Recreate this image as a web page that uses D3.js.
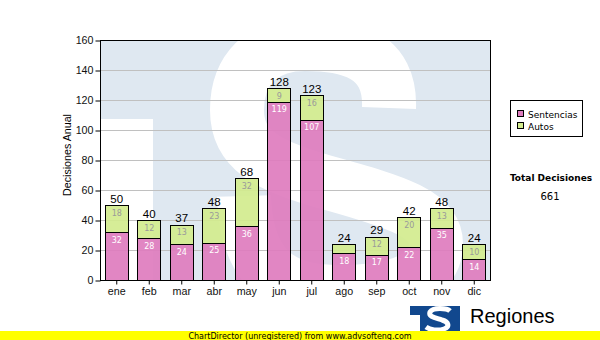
<!DOCTYPE html>
<html>
<head>
<meta charset="utf-8">
<script src="https://cdn.jsdelivr.net/npm/d3@7"></script>
<style>
  html, body { margin: 0; padding: 0; background: #fff; }
  svg { display: block; }
</style>
</head>
<body>
<svg id="chart" width="600" height="340"></svg>
<script>
// Monthly decisions, stacked by type
const months = ["ene","feb","mar","abr","may","jun","jul","ago","sep","oct","nov","dic"];
const sentencias = [32, 28, 24, 25, 36, 119, 107, 18, 17, 22, 35, 14];
const autos      = [18, 12, 13, 23, 32, 9, 16, 6, 12, 20, 13, 10];
const seriesNames = ["Sentencias", "Autos"];
const yTicks = [0, 20, 40, 60, 80, 100, 120, 140, 160];

const colors = { Sentencias: "#de7cbe", Autos: "#d3ec8e" };
const emblemBlue = "#dfe8f1";

const svg = d3.select("#chart");
const plot = { left: 100, top: 40, right: 490, bottom: 280 };

const x = d3.scaleBand().domain(months)
  .range([plot.left, plot.right]).paddingInner(0.28).paddingOuter(0.14);
const y = d3.scaleLinear().domain([0, 160]).range([plot.bottom, plot.top]);

// background emblem (large pale "TS"), clipped to the plot area
svg.append("defs").append("clipPath").attr("id", "plotClip")
  .append("rect").attr("x", plot.left).attr("y", plot.top)
  .attr("width", plot.right - plot.left).attr("height", plot.bottom - plot.top);

const wm = svg.append("g").attr("clip-path", "url(#plotClip)");
wm.append("rect").attr("x", plot.left).attr("y", plot.top)
  .attr("width", plot.right - plot.left).attr("height", plot.bottom - plot.top)
  .attr("fill", emblemBlue);
// space beside the T stem
wm.append("rect").attr("x", plot.left).attr("y", 119)
  .attr("width", 53).attr("height", plot.bottom - 119).attr("fill", "#fff");
// the S, as one broad stroke
wm.append("path")
  .attr("d", "M389,108 C391,55 350,44 305,44 C262,44 237,70 237,110 C237,150 268,166 325,182 C398,202 436,214 436,244 C436,276 400,292 338,292 C285,292 246,272 244,196")
  .attr("fill", "none").attr("stroke", "#fff").attr("stroke-width", 54);

// gridlines
svg.append("g").selectAll("line").data(yTicks.filter(t => t > 0 && t < 160)).join("line")
  .attr("x1", plot.left).attr("x2", plot.right)
  .attr("y1", d => Math.round(y(d)) + 0.5).attr("y2", d => Math.round(y(d)) + 0.5)
  .attr("stroke", "#c0c0c0").attr("stroke-width", 1);

// stacked bars
const rows = months.map((m, i) => ({ month: m, Sentencias: sentencias[i], Autos: autos[i] }));
const stacked = d3.stack().keys(seriesNames)(rows);

const layers = svg.append("g").selectAll("g").data(stacked).join("g");
layers.selectAll("rect").data(d => d.map(v => ({ key: d.key, v }))).join("rect")
  .attr("x", d => Math.round(x(d.v.data.month)) + 0.5)
  .attr("y", d => Math.round(y(d.v[1])) + 0.5)
  .attr("width", Math.round(x.bandwidth()))
  .attr("height", d => Math.round(y(d.v[0])) - Math.round(y(d.v[1])))
  .attr("fill", d => colors[d.key]).attr("fill-opacity", 0.92)
  .attr("stroke", "#000").attr("stroke-width", 1);

// segment value labels
layers.selectAll("text").data(d => d.map(v => ({ key: d.key, v }))
    .filter(d => y(d.v[0]) - y(d.v[1]) > 10)).join("text")
  .attr("x", d => x(d.v.data.month) + x.bandwidth() / 2 + 0.5)
  .attr("y", d => y(d.v[1]) + 10.5)
  .attr("text-anchor", "middle")
  .attr("font-family", "DejaVu Sans, Verdana, sans-serif").attr("font-size", 8)
  .attr("fill", d => d.key === "Sentencias" ? "#ffffff" : "#9a9a9a")
  .text(d => d.v.data[d.key]);

// totals above bars
const totals = months.map((m, i) => sentencias[i] + autos[i]);
svg.append("g").selectAll("text").data(months).join("text")
  .attr("x", d => x(d) + x.bandwidth() / 2 + 0.5)
  .attr("y", (d, i) => y(totals[i]) - 2.5)
  .attr("text-anchor", "middle")
  .attr("font-family", "Liberation Sans, Arial, sans-serif").attr("font-size", 11.5)
  .attr("fill", "#000")
  .text((d, i) => totals[i]);

// plot frame
svg.append("rect").attr("x", plot.left + 0.5).attr("y", plot.top + 0.5)
  .attr("width", plot.right - plot.left).attr("height", plot.bottom - plot.top)
  .attr("fill", "none").attr("stroke", "#000").attr("stroke-width", 1);

// axes
const yAxis = svg.append("g").attr("transform", `translate(${plot.left + 0.5},0.5)`)
  .call(d3.axisLeft(y).tickValues(yTicks).tickSize(5).tickPadding(2).tickFormat(d3.format("d")));
yAxis.select(".domain").remove();
yAxis.selectAll("text").attr("font-family", "Liberation Sans, Arial, sans-serif")
  .attr("font-size", 10.7).attr("fill", "#111");

const xAxis = svg.append("g").attr("transform", `translate(0.5,${plot.bottom + 0.5})`)
  .call(d3.axisBottom(x).tickSize(4).tickPadding(3));
xAxis.select(".domain").remove();
xAxis.selectAll("text").attr("font-family", "Liberation Sans, Arial, sans-serif")
  .attr("font-size", 10.7).attr("fill", "#111");

// y axis title
svg.append("text")
  .attr("transform", `translate(71,${(plot.top + plot.bottom) / 2 - 5}) rotate(-90)`)
  .attr("text-anchor", "middle")
  .attr("font-family", "Liberation Sans, Arial, sans-serif").attr("font-size", 10.7)
  .attr("fill", "#000").text("Decisiones Anual");

// legend
const legend = svg.append("g");
legend.append("rect").attr("x", 510.5).attr("y", 100.5).attr("width", 72).attr("height", 36)
  .attr("fill", "#fff").attr("stroke", "#000");
const li = legend.selectAll("g").data(seriesNames).join("g")
  .attr("transform", (d, i) => `translate(517,${110 + i * 12})`);
li.append("rect").attr("x", 0.5).attr("y", 0.5).attr("width", 6).attr("height", 6)
  .attr("fill", d => colors[d]).attr("stroke", "#000");
li.append("text").attr("x", 11).attr("y", 7.5)
  .attr("font-family", "DejaVu Sans, Verdana, sans-serif").attr("font-size", 9)
  .attr("fill", "#000").text(d => d);

// grand total
svg.append("text").attr("x", 551).attr("y", 180.5).attr("text-anchor", "middle")
  .attr("font-family", "DejaVu Sans, Verdana, sans-serif").attr("font-size", 9)
  .attr("font-weight", "bold").attr("fill", "#000").text("Total Decisiones");
svg.append("text").attr("x", 550).attr("y", 200).attr("text-anchor", "middle")
  .attr("font-family", "DejaVu Sans, Verdana, sans-serif").attr("font-size", 10)
  .attr("fill", "#000").text(d3.sum(totals));

// emblem and caption
const logo = svg.append("g");
logo.append("path").attr("d", "M410,306 H460 V331 H420 V315 H410 Z").attr("fill", "#11488e");
logo.append("path")
  .attr("d", "M450,311 C447,308 433,307 430,312 C428,317 436,318 442,320 C449,322 450,327 444,329 C438,331 430,330 426,327")
  .attr("fill", "none").attr("stroke", "#fff").attr("stroke-width", 5);
svg.append("text").attr("x", 470).attr("y", 323)
  .attr("font-family", "Liberation Sans, Arial, sans-serif").attr("font-size", 20)
  .attr("fill", "#000").text("Regiones");
svg.append("text").attr("x", 467).attr("y", 338)
  .attr("font-family", "Liberation Sans, Arial, sans-serif").attr("font-size", 9.5)
  .attr("fill", "#000").text("Tribunal Supremo de Justicia");

// footer band
svg.append("rect").attr("x", 0).attr("y", 331).attr("width", 600).attr("height", 9).attr("fill", "#ffff00");
svg.append("text").attr("x", 300).attr("y", 338.5).attr("text-anchor", "middle")
  .attr("font-family", "DejaVu Sans, Verdana, sans-serif").attr("font-size", 8)
  .attr("fill", "#000").text("ChartDirector (unregistered) from www.advsofteng.com");
</script>
</body>
</html>
